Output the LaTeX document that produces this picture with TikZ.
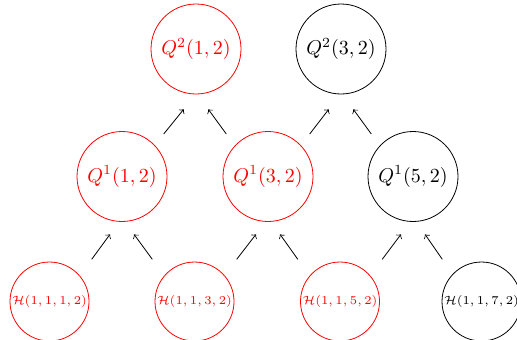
\documentclass[tikz,border=0pt]{standalone}
\usetikzlibrary{calc}
\begin{document}
\begin{tikzpicture}[x=0.5pt,y=-0.5pt,
  qnode/.style={circle,draw,inner sep=0pt,minimum size=45pt},
  hnode/.style={circle,draw,inner sep=0pt,minimum size=39.5pt,font=\fontsize{5.9}{7}\selectfont},
  sel/.style={red,text=red},
  arr/.style={->,black}]
\useasboundingbox (0,0) rectangle (517,339);
% top row
\node[qnode,sel] (q21) at (196,49) {$Q^2(1,2)$};
\node[qnode] (q23) at (341,49) {$Q^2(3,2)$};
% middle row
\node[qnode,sel] (q11) at (122,176.5) {$Q^1(1,2)$};
\node[qnode,sel] (q13) at (268,176.5) {$Q^1(3,2)$};
\node[qnode] (q15) at (413,176.5) {$Q^1(5,2)$};
% bottom row
\node[hnode,sel] (h1) at (49.5,301.5) {$\mathcal{H}(1,1,1,2)$};
\node[hnode,sel] (h3) at (194.5,301.5) {$\mathcal{H}(1,1,3,2)$};
\node[hnode,sel] (h5) at (340,301.5) {$\mathcal{H}(1,1,5,2)$};
\node[hnode] (h7) at (481.5,301.5) {$\mathcal{H}(1,1,7,2)$};
% arrows middle -> top
\draw[arr] ($(q11)+(41.7,-42.5)$) -- ($(q21)+(-12.3,60.3)$);
\draw[arr] ($(q13)+(-41.7,-42.5)$) -- ($(q21)+(12.3,60.3)$);
\draw[arr] ($(q13)+(41.7,-42.5)$) -- ($(q23)+(-12.3,60.3)$);
\draw[arr] ($(q15)+(-41.7,-42.5)$) -- ($(q23)+(12.3,60.3)$);
% arrows bottom -> middle
\draw[arr] ($(h1)+(42.2,-42.2)$) -- ($(q11)+(-12,57.8)$);
\draw[arr] ($(h3)+(-42.2,-42.2)$) -- ($(q11)+(12,57.8)$);
\draw[arr] ($(h3)+(42.2,-42.2)$) -- ($(q13)+(-12,57.8)$);
\draw[arr] ($(h5)+(-42.2,-42.2)$) -- ($(q13)+(12,57.8)$);
\draw[arr] ($(h5)+(42.2,-42.2)$) -- ($(q15)+(-12,57.8)$);
\draw[arr] ($(h7)+(-39.2,-42.2)$) -- ($(q15)+(12,57.8)$);
\end{tikzpicture}
\end{document}
